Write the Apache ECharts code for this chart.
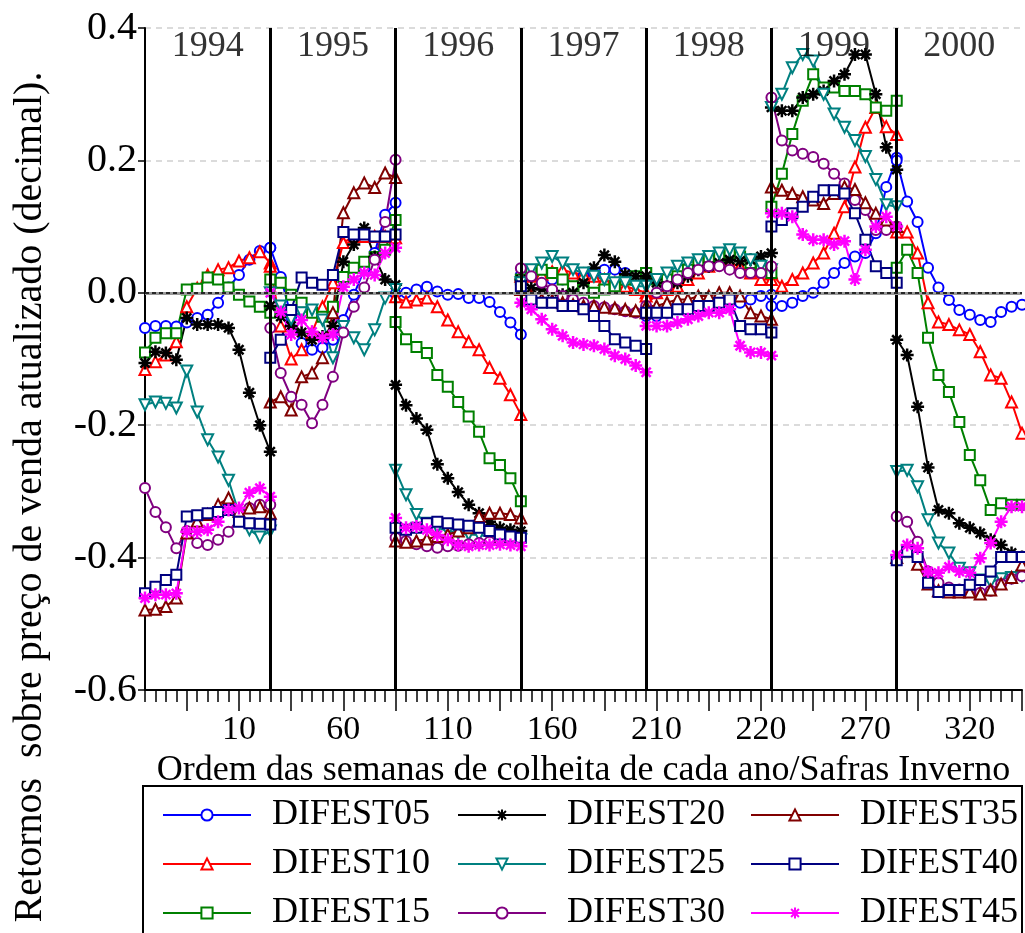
<!DOCTYPE html>
<html><head><meta charset="utf-8">
<script src="https://cdn.jsdelivr.net/npm/echarts@6/dist/echarts.min.js"></script>
<style>html,body{margin:0;padding:0;background:#fff}#c{width:1025px;height:933px}</style>
</head><body><div id="c"></div>
<script>
const years = ['1994','1995','1996','1997','1998','1999','2000'];
const seriesNames = ['DIFEST05','DIFEST10','DIFEST15','DIFEST20','DIFEST25','DIFEST30','DIFEST35','DIFEST40','DIFEST45'];
const xTickIndex = [9,19,29,39,49,59,69,79];
const xTickLabels = ['10','60','110','160','210','220','270','320'];
const yTickLabels = ['-0.6','-0.4','-0.2','0.0','0.2','0.4'];
const yTickValues = [-0.6,-0.4,-0.2,0,0.2,0.4];

// each variable: 7 years x 13 weekly values
const DIFEST05 = [
 [-0.053,-0.05,-0.05,-0.051,-0.045,-0.038,-0.033,-0.015,0.008,0.027,0.05,0.063,0.068],
 [0.068,0.024,-0.036,-0.076,-0.086,-0.083,-0.071,-0.041,-0.003,0.035,0.06,0.118,0.136],
 [-0.002,0.0,0.005,0.009,0.002,-0.003,-0.002,-0.008,-0.008,-0.014,-0.029,-0.045,-0.063],
 [0.027,0.025,0.02,0.02,0.02,0.022,0.025,0.03,0.035,0.035,0.03,0.025,0.02],
 [-0.035,-0.035,-0.03,-0.025,-0.02,-0.02,-0.02,-0.015,-0.015,-0.015,-0.01,-0.005,-0.003],
 [-0.02,-0.02,-0.015,-0.005,0.0,0.015,0.03,0.045,0.055,0.06,0.09,0.16,0.204],
 [0.2,0.138,0.107,0.038,0.008,-0.011,-0.026,-0.033,-0.041,-0.044,-0.029,-0.021,-0.018]
];
const DIFEST10 = [
 [-0.116,-0.104,-0.094,-0.074,-0.021,0.007,0.027,0.035,0.038,0.048,0.053,0.062,0.045],
 [0.04,-0.05,-0.1,-0.086,-0.06,-0.021,0.015,0.076,0.085,0.085,0.085,0.085,0.083],
 [-0.006,-0.014,-0.011,-0.008,-0.021,-0.041,-0.059,-0.074,-0.086,-0.113,-0.129,-0.154,-0.184],
 [0.025,0.025,0.028,0.032,0.035,0.03,0.028,0.025,0.02,0.015,0.01,0.005,0.0],
 [-0.005,0.0,0.005,0.01,0.02,0.03,0.04,0.05,0.045,0.04,0.03,0.02,0.02],
 [0.03,0.01,0.02,0.03,0.045,0.06,0.09,0.13,0.19,0.25,0.28,0.251,0.239],
 [0.092,0.092,0.06,-0.015,-0.044,-0.048,-0.056,-0.063,-0.089,-0.124,-0.129,-0.165,-0.212]
];
const DIFEST15 = [
 [-0.09,-0.068,-0.061,-0.061,0.005,0.006,0.023,0.02,0.008,-0.003,-0.013,-0.021,-0.03],
 [0.02,0.015,-0.003,-0.015,-0.03,-0.036,-0.021,0.024,0.038,0.047,0.054,0.065,0.11],
 [-0.044,-0.07,-0.082,-0.091,-0.124,-0.142,-0.165,-0.187,-0.21,-0.25,-0.26,-0.28,-0.315],
 [0.02,0.03,0.035,0.03,0.02,0.01,0.005,0.0,0.005,0.01,0.02,0.025,0.03],
 [0.03,0.02,0.02,0.025,0.035,0.045,0.05,0.055,0.06,0.055,0.045,0.04,0.03],
 [0.13,0.18,0.24,0.29,0.33,0.31,0.31,0.305,0.305,0.3,0.28,0.275,0.29],
 [0.038,0.065,0.03,-0.068,-0.124,-0.15,-0.195,-0.245,-0.283,-0.328,-0.318,-0.32,-0.32]
];
const DIFEST20 = [
 [-0.106,-0.089,-0.091,-0.101,-0.038,-0.048,-0.048,-0.048,-0.053,-0.086,-0.151,-0.2,-0.24],
 [-0.02,-0.036,-0.05,-0.06,-0.071,-0.066,-0.05,0.047,0.073,0.098,0.054,0.02,0.012],
 [-0.139,-0.17,-0.19,-0.207,-0.259,-0.28,-0.301,-0.32,-0.333,-0.346,-0.355,-0.358,-0.36],
 [0.02,0.007,0.005,0.002,-0.003,0.0,0.015,0.038,0.057,0.047,0.028,0.025,0.025],
 [0.02,0.015,0.01,0.015,0.025,0.035,0.04,0.045,0.05,0.048,0.05,0.055,0.06],
 [0.28,0.275,0.275,0.295,0.3,0.305,0.32,0.33,0.36,0.36,0.3,0.22,0.186],
 [-0.071,-0.094,-0.172,-0.264,-0.328,-0.333,-0.348,-0.355,-0.363,-0.373,-0.381,-0.393,-0.399]
];
const DIFEST25 = [
 [-0.169,-0.165,-0.167,-0.174,-0.118,-0.18,-0.222,-0.248,-0.283,-0.333,-0.358,-0.369,-0.36],
 [0.0,-0.02,-0.04,-0.03,-0.026,-0.041,-0.098,-0.051,-0.068,-0.086,-0.056,-0.008,0.005],
 [-0.268,-0.305,-0.335,-0.348,-0.355,-0.36,-0.363,-0.365,-0.366,-0.368,-0.37,-0.372,-0.373],
 [0.015,0.035,0.045,0.055,0.045,0.035,0.03,0.025,0.02,0.015,0.015,0.01,0.01],
 [0.01,0.02,0.03,0.04,0.045,0.05,0.055,0.06,0.065,0.06,0.05,0.04,0.035],
 [0.28,0.3,0.34,0.36,0.35,0.3,0.27,0.25,0.23,0.206,0.171,0.133,0.13],
 [-0.27,-0.268,-0.293,-0.343,-0.378,-0.393,-0.416,-0.423,-0.434,-0.437,-0.432,-0.43,-0.428]
];
const DIFEST30 = [
 [-0.295,-0.331,-0.354,-0.386,-0.36,-0.378,-0.381,-0.373,-0.361,-0.34,-0.325,-0.32,-0.32],
 [-0.053,-0.121,-0.157,-0.169,-0.197,-0.169,-0.127,-0.06,-0.021,0.008,0.05,0.107,0.201],
 [-0.37,-0.375,-0.38,-0.383,-0.385,-0.383,-0.382,-0.38,-0.378,-0.376,-0.375,-0.372,-0.37],
 [0.037,0.025,0.015,0.005,-0.005,-0.01,-0.015,-0.02,-0.022,-0.025,-0.028,-0.03,-0.03],
 [-0.02,0.0,0.01,0.02,0.03,0.035,0.04,0.04,0.035,0.03,0.03,0.03,0.04],
 [0.295,0.23,0.215,0.21,0.205,0.195,0.18,0.165,0.14,0.125,0.095,0.095,0.1],
 [-0.338,-0.346,-0.376,-0.421,-0.438,-0.445,-0.448,-0.45,-0.453,-0.45,-0.44,-0.432,-0.428]
];
const DIFEST35 = [
 [-0.479,-0.478,-0.474,-0.461,-0.363,-0.345,-0.335,-0.32,-0.31,-0.33,-0.325,-0.323,-0.333],
 [-0.165,-0.157,-0.177,-0.127,-0.121,-0.098,-0.03,0.121,0.151,0.166,0.159,0.181,0.174],
 [-0.375,-0.377,-0.375,-0.372,-0.368,-0.365,-0.36,-0.355,-0.338,-0.333,-0.333,-0.335,-0.34],
 [0.005,-0.005,-0.01,-0.012,-0.015,-0.018,-0.02,-0.02,-0.022,-0.023,-0.025,-0.027,-0.03],
 [-0.02,-0.02,-0.015,-0.01,-0.01,-0.005,-0.005,0.0,0.0,-0.005,-0.03,-0.035,-0.04],
 [0.16,0.155,0.15,0.145,0.14,0.135,0.15,0.16,0.156,0.136,0.12,0.11,0.1],
 [-0.4,-0.39,-0.41,-0.44,-0.45,-0.452,-0.452,-0.452,-0.455,-0.449,-0.44,-0.43,-0.411]
];
const DIFEST40 = [
 [-0.454,-0.444,-0.434,-0.426,-0.338,-0.336,-0.333,-0.331,-0.328,-0.346,-0.348,-0.349,-0.35],
 [-0.098,-0.071,-0.026,0.023,0.015,0.012,0.027,0.092,0.088,0.088,0.085,0.085,0.088],
 [-0.355,-0.358,-0.355,-0.348,-0.346,-0.348,-0.35,-0.352,-0.355,-0.36,-0.365,-0.368,-0.37],
 [0.01,-0.01,-0.015,-0.015,-0.02,-0.02,-0.025,-0.035,-0.05,-0.07,-0.075,-0.08,-0.085],
 [-0.03,-0.03,-0.03,-0.025,-0.025,-0.02,-0.02,-0.015,-0.01,-0.05,-0.055,-0.055,-0.06],
 [0.1,0.11,0.12,0.13,0.145,0.155,0.155,0.15,0.12,0.08,0.04,0.03,0.015],
 [-0.404,-0.391,-0.399,-0.438,-0.452,-0.449,-0.449,-0.441,-0.434,-0.421,-0.399,-0.399,-0.399]
];
const DIFEST45 = [
 [-0.461,-0.456,-0.456,-0.454,-0.361,-0.361,-0.358,-0.346,-0.328,-0.325,-0.302,-0.295,-0.308],
 [0.0,-0.029,-0.063,-0.041,-0.059,-0.068,-0.063,0.009,0.02,0.03,0.027,0.06,0.068],
 [-0.34,-0.355,-0.353,-0.358,-0.366,-0.373,-0.381,-0.383,-0.381,-0.381,-0.38,-0.381,-0.383],
 [-0.015,-0.025,-0.04,-0.055,-0.065,-0.075,-0.078,-0.08,-0.085,-0.095,-0.1,-0.11,-0.12],
 [-0.05,-0.05,-0.05,-0.045,-0.04,-0.035,-0.03,-0.03,-0.025,-0.08,-0.09,-0.09,-0.095],
 [0.12,0.12,0.115,0.088,0.08,0.08,0.073,0.078,0.02,0.065,0.1,0.115,0.1],
 [-0.396,-0.381,-0.386,-0.421,-0.423,-0.414,-0.421,-0.423,-0.401,-0.378,-0.346,-0.323,-0.323]
];
const allData = [DIFEST05,DIFEST10,DIFEST15,DIFEST20,DIFEST25,DIFEST30,DIFEST35,DIFEST40,DIFEST45];

const colors = ['#0000FF','#FF0000','#008000','#000000','#008080','#800080','#800000','#000080','#FF00FF'];
const ASTER = 'path://M5,0L5,10M0,5L10,5M1.5,1.5L8.5,8.5M8.5,1.5L1.5,8.5';
const DOWNTRI = 'path://M0,0L10,0L5,9Z';
const symbols = ['circle','triangle','rect',ASTER,DOWNTRI,'circle','triangle','rect',ASTER];
const symSizes = [10,11,10,13,11,10,11,10,13];
const symBorder = [2,2,2,2.5,2,2,2,2,2.5];

const FONT = 'Liberation Serif';
const PER_YEAR = 12;

const series = [];
allData.forEach((arr, v) => {
  arr.forEach((yearVals, k) => {
    series.push({
      name: seriesNames[v], type: 'line',
      data: yearVals.map((y, j) => [k * PER_YEAR + j, y]),
      symbol: symbols[v], symbolSize: symSizes[v], showSymbol: true,
      lineStyle: { color: colors[v], width: 2 },
      itemStyle: { color: '#fff', borderColor: colors[v], borderWidth: symBorder[v] },
      emphasis: { disabled: true }, z: 3
    });
  });
});
series.push({
  type: 'line', data: [], silent: true, z: 5,
  markLine: { symbol: 'none', silent: true, label: { show: false },
    lineStyle: { color: '#000', width: 3, type: 'solid' },
    data: years.slice(1).map((y, k) => ({ xAxis: (k + 1) * PER_YEAR })) }
});
series.push({
  type: 'line', data: [], silent: true, z: 2,
  markLine: { symbol: 'none', silent: true, label: { show: false },
    lineStyle: { color: '#999', width: 3, type: 'solid' }, data: [{ yAxis: 0 }] }
});
series.push({
  type: 'line', data: [], silent: true, z: 2,
  markLine: { symbol: 'none', silent: true, label: { show: false },
    lineStyle: { color: '#000', width: 1.5, type: [4, 3] }, data: [{ yAxis: 0 }] }
});
series.push({
  type: 'scatter', symbolSize: 0, silent: true, z: 6,
  data: years.map((y, k) => [k * PER_YEAR + PER_YEAR / 2, 0.372, y]),
  label: { show: true, position: 'inside', formatter: p => p.value[2],
    color: '#000', fontFamily: FONT, fontSize: 36 }
});

const legendCols = [[0,1,2],[3,4,5],[6,7,8]];
const legendLefts = [157, 452, 745];
const legends = legendCols.map((col, c) => ({
  orient: 'vertical', left: legendLefts[c], top: 792, height: 200,
  itemWidth: 88, itemHeight: 14, itemGap: 13,
  data: col.map(i => seriesNames[i]),
  textStyle: { fontFamily: FONT, fontSize: 36, color: '#000', padding: [0,0,0,16] },
  selectedMode: false
}));

const chart = echarts.init(document.getElementById('c'), null, { renderer: 'canvas' });
chart.setOption({
  animation: false,
  backgroundColor: '#fff',
  grid: { left: 145, right: 3, top: 28, bottom: 243, containLabel: false },
  legend: legends,
  xAxis: [{
    type: 'value', min: 0, max: 84, interval: 1,
    axisLine: { show: true, onZero: false, lineStyle: { color: '#000', width: 2 } },
    axisTick: { show: true, length: 12, lineStyle: { color: '#000', width: 1.5 } },
    axisLabel: { show: true, margin: 23, fontFamily: FONT, fontSize: 34, color: '#000',
      formatter: v => { const i = xTickIndex.indexOf(Math.round(v)); return i >= 0 ? xTickLabels[i] : ''; } },
    splitLine: { show: false },
    name: 'Ordem das semanas de colheita de cada ano/Safras Inverno',
    nameLocation: 'middle', nameGap: 63,
    nameTextStyle: { fontFamily: FONT, fontSize: 36, color: '#000' }
  }, {
    type: 'category', data: Array.from({length: 85}, (_, i) => String(i)), boundaryGap: false,
    position: 'bottom',
    axisLine: { show: false, onZero: false },
    axisTick: { show: true, length: 21, interval: (i) => i % 5 === 4, lineStyle: { color: '#000', width: 1.5 } },
    axisLabel: { show: false }, splitLine: { show: false }
  }],
  yAxis: {
    type: 'value', min: -0.6, max: 0.4, interval: 0.2,
    axisLine: { show: true, onZero: false, lineStyle: { color: '#000', width: 2 } },
    axisTick: { show: true, length: 7, lineStyle: { color: '#000', width: 1.5 } },
    axisLabel: { margin: 8, fontFamily: FONT, fontSize: 40, color: '#000',
      formatter: v => { let idx = 0, best = 1e9; yTickValues.forEach((t, i) => { const d = Math.abs(t - v); if (d < best) { best = d; idx = i; } }); return yTickLabels[idx]; } },
    splitLine: { show: true, lineStyle: { color: '#d0d0d0', width: 1.5, type: [6, 5] } }
  },
  graphic: [
    { type: 'rect', shape: { x: 143, y: 786, width: 879, height: 160 }, style: { fill: 'none', stroke: '#000', lineWidth: 2 }, z: 0 },
    { type: 'text', x: 30, y: 497, rotation: Math.PI / 2,
      style: { text: 'Retornos  sobre preço de venda atualizado (decimal).', fontFamily: FONT, fontSize: 40, fill: '#000', align: 'center', verticalAlign: 'middle' } }
  ],
  series: series
});
</script></body></html>
